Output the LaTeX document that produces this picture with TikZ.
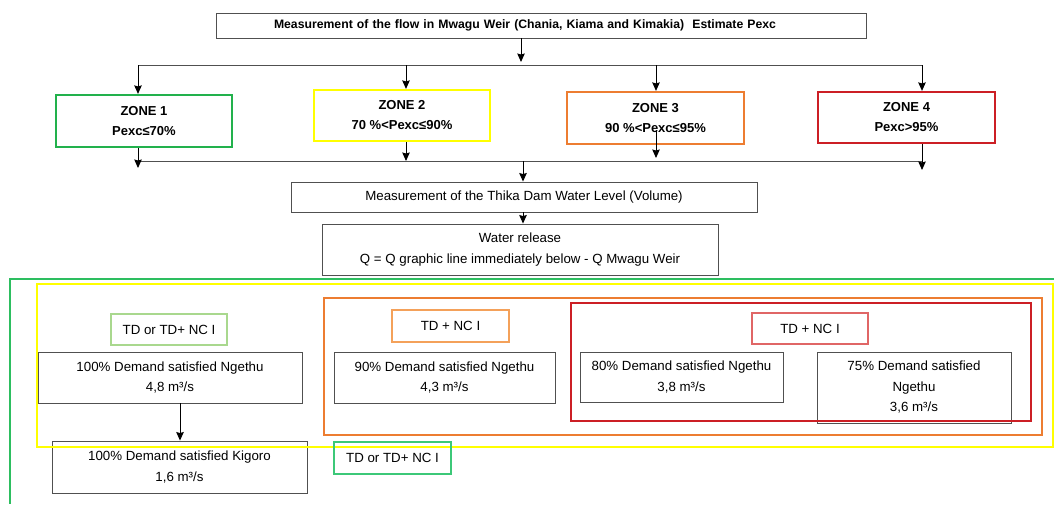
\documentclass[tikz,border=0pt]{standalone}
\usepackage{fontspec}
\setmainfont{Liberation Sans}
\usetikzlibrary{arrows.meta}
\definecolor{zgreen}{HTML}{22B14C}
\definecolor{zyellow}{HTML}{FFFF00}
\definecolor{zorange}{HTML}{ED7D31}
\definecolor{zred}{HTML}{CC1F25}
\definecolor{fgreen}{HTML}{2DBE60}
\definecolor{lgreen}{HTML}{A9D88E}
\definecolor{lorange}{HTML}{F4A15A}
\definecolor{lred}{HTML}{E06666}
\definecolor{mgreen}{HTML}{3CC878}
\definecolor{boxgray}{HTML}{505050}
\begin{document}
\begin{tikzpicture}[x=1pt,y=-1pt,
  gbox/.style={draw=boxgray, line width=0.9pt, inner sep=0pt, align=center, font=\fontsize{13.3}{20.5}\selectfont},
  zbox/.style={line width=2.2pt, inner sep=0pt, align=center, font=\fontsize{13}{20}\selectfont\bfseries},
  lab/.style={line width=1.1pt, inner sep=0pt, font=\fontsize{13.3}{16}\selectfont},
  arr/.style={-{Stealth[length=8.5pt,width=7.5pt,inset=1pt]}, line width=1pt, draw=black},
  conn/.style={line width=1pt, draw=boxgray},
  frm/.style={line width=2pt}]
\useasboundingbox (0,0) rectangle (1054,504);
\fill[white] (0,0) rectangle (1054,504);

% top
\node[gbox, minimum width=650, minimum height=25, text width=650, align=left] (title) at (541,25.5)
  {\hspace*{58pt}\resizebox{502pt}{!}{\bfseries Measurement of the flow in Mwagu Weir (Chania, Kiama and Kimakia)\ \ Estimate Pexc}};

% zones
\node[zbox, draw=zgreen, minimum width=176, minimum height=52] (z1) at (144,121) {ZONE 1\\Pexc≤70\%};
\node[zbox, draw=zyellow, minimum width=176, minimum height=51] (z2) at (402,115.5) {ZONE 2\\70 \%<Pexc≤90\%};
\node[zbox, draw=zorange, minimum width=177, minimum height=52] (z3) at (655.5,118) {ZONE 3\\90 \%<Pexc≤95\%};
\node[zbox, draw=zred, minimum width=177, minimum height=51] (z4) at (906.5,117.5) {ZONE 4\\Pexc>95\%};

% middle
\node[gbox, minimum width=466, minimum height=30] (thika) at (524,197) {Measurement of the Thika Dam Water Level (Volume)};
\node[gbox, minimum width=396, minimum height=51] (water) at (520,249.5) {Water release\\Q = Q graphic line immediately below - Q Mwagu Weir};

% bottom boxes
\node[gbox, minimum width=264, minimum height=51] (n100) at (170,377.5) {100\% Demand satisfied Ngethu\\4,8 m³/s};
\node[gbox, minimum width=255, minimum height=52] (kig) at (179.5,467) {100\% Demand satisfied Kigoro\\1,6 m³/s};
\node[gbox, minimum width=221, minimum height=51] (n90) at (444.5,377.5) {90\% Demand satisfied Ngethu\\4,3 m³/s};
\node[gbox, minimum width=203, minimum height=50] (n80) at (681.5,377) {80\% Demand satisfied Ngethu\\3,8 m³/s};
\node[gbox, minimum width=194, minimum height=71] (n75) at (914,387.5) {75\% Demand satisfied\\Ngethu\\3,6 m³/s};

% frames
\draw[frm, draw=fgreen] (1054,279) -- (10,279) -- (10,504);
\draw[frm, draw=zyellow] (37,284) rectangle (1053,447);
\draw[frm, draw=zorange] (324,298) rectangle (1042,435);
\draw[frm, draw=zred] (571,303) rectangle (1031,421);

% labels
\node[lab, draw=lgreen, minimum width=116, minimum height=31] (lab1) at (169,329.5) {TD or TD+ NC I};
\node[lab, draw=mgreen, minimum width=117, minimum height=32] (lab2) at (392.5,458) {TD or TD+ NC I};
\node[lab, draw=lorange, minimum width=117, minimum height=32] (lab3) at (450.5,326) {TD + NC I};
\node[lab, draw=lred, minimum width=116, minimum height=31] (lab4) at (810,328.5) {TD + NC I};

% connectors top
\coordinate (tm) at (521,62);
\coordinate (t1) at (138,65);
\coordinate (t2) at (406,65);
\coordinate (t3) at (656,65);
\coordinate (t4) at (922,65);
\draw[arr] (title.south -| tm) -- (tm);
\draw[conn] (t1) -- (t4);
\draw[arr] (t1) -- (z1.north -| t1);
\draw[arr] (t2) -- (z2.north -| t2);
\draw[arr] (t3) -- (z3.north -| t3);
\draw[arr] (t4) -- (z4.north -| t4);

% connectors lower
\coordinate (bl) at (138,161);
\coordinate (br) at (922,161);
\coordinate (u1) at (138,168);
\coordinate (u2) at (406,161);
\coordinate (s3) at (656,130);
\coordinate (u3) at (656,158);
\coordinate (u4) at (922,170);
\coordinate (um) at (523,161);
\draw[conn] (bl) -- (br);
\draw[arr] (z1.south -| u1) -- (u1);
\draw[arr] (z2.south -| u2) -- (u2);
\draw[arr] (s3) -- (u3);
\draw[arr] (z4.south -| u4) -- (u4);
\draw[arr] (um) -- (thika.north -| um);
\draw[arr] (thika.south -| um) -- (water.north -| um);
\coordinate (kx) at (180,0);
\draw[arr] (n100.south -| kx) -- (kig.north -| kx);
\end{tikzpicture}
\end{document}
